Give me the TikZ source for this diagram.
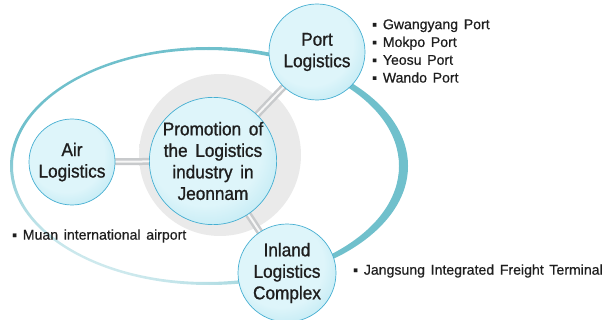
\documentclass[tikz,border=0pt]{standalone}
\usepackage{fontspec}
\newfontfamily\labelfont[FakeStretch=0.93,WordSpace=1.6,FakeBold=1]{Liberation Sans}
\newfontfamily\itemfont[WordSpace=1.45,FakeBold=0.6]{Liberation Sans}
\usetikzlibrary{backgrounds}
\definecolor{ballin}{RGB}{222,245,250}
\definecolor{ballmid}{RGB}{168,224,238}
\definecolor{ballout}{RGB}{92,188,218}
\definecolor{ballrim}{RGB}{70,175,210}
\definecolor{ringcol}{RGB}{112,192,204}
\definecolor{halocol}{RGB}{234,234,234}
\definecolor{barcol}{RGB}{200,202,204}
\definecolor{txtcol}{RGB}{30,30,30}
\pgfdeclareradialshading{ballshade}{\pgfpoint{-6bp}{8bp}}{color(0bp)=(ballin); color(22bp)=(ballin); color(40bp)=(ballmid); color(50bp)=(ballout)}
\pgfdeclareradialshading{haloshade}{\pgfpoint{0bp}{0bp}}{color(0bp)=(halocol); color(38bp)=(halocol); color(50bp)=(white)}
\pgfdeclareverticalshading{ringshade}{100bp}{color(0bp)=(ringcol!22); color(24bp)=(ringcol!22); color(42bp)=(ringcol); color(100bp)=(ringcol)}
\tikzstyle{ball}=[circle,inner sep=0pt,shade,shading=ballshade,draw=ballrim,line width=0.7pt,align=center,text=txtcol,font=\labelfont\fontsize{18.5}{21.5}\selectfont]
\tikzstyle{item}=[inner sep=0pt,anchor=west,align=left,text=txtcol,font=\itemfont\fontsize{14.1}{17.8}\selectfont]
\tikzstyle{bar}=[line width=7pt,barcol]
\tikzstyle{barlight}=[line width=2pt,white!85!barcol]

\begin{document}
\begin{tikzpicture}[x=1pt,y=-1pt]
\useasboundingbox (0,0) rectangle (609,320);
\node[ball,minimum size=114pt] (hub) at (213,161) {Promotion of\\the Logistics\\industry in\\Jeonnam};
\node[ball,minimum size=96pt] (port) at (317,52) {Port\\Logistics};
\node[ball,minimum size=86pt] (air) at (72,162) {Air\\Logistics};
\node[ball,minimum size=98pt] (inland) at (287,273) {Inland\\Logistics\\Complex};

\node[item] (ports) at (372,51) {▪ Gwangyang Port\\▪ Mokpo Port\\▪ Yeosu Port\\▪ Wando Port};
\node[item] (muan) at (12,236) {▪ Muan international airport};
\node[item] (jangsung) at (353,271) {▪ Jangsung Integrated Freight Terminal};

\begin{pgfonlayer}{background}
\shade[shading=haloshade] (220,155) circle (81pt);
\shade[shading=ringshade,shading angle=-20,even odd rule] (209,166) ellipse [x radius=199pt,y radius=119pt] (206,166) ellipse [x radius=193pt,y radius=116pt];
\foreach \n in {air,port,inland}{
	\draw[bar] (hub.center)--(\n.center);
	\draw[barlight] (hub.center)--(\n.center);}
\end{pgfonlayer}
\end{tikzpicture}
\end{document}
